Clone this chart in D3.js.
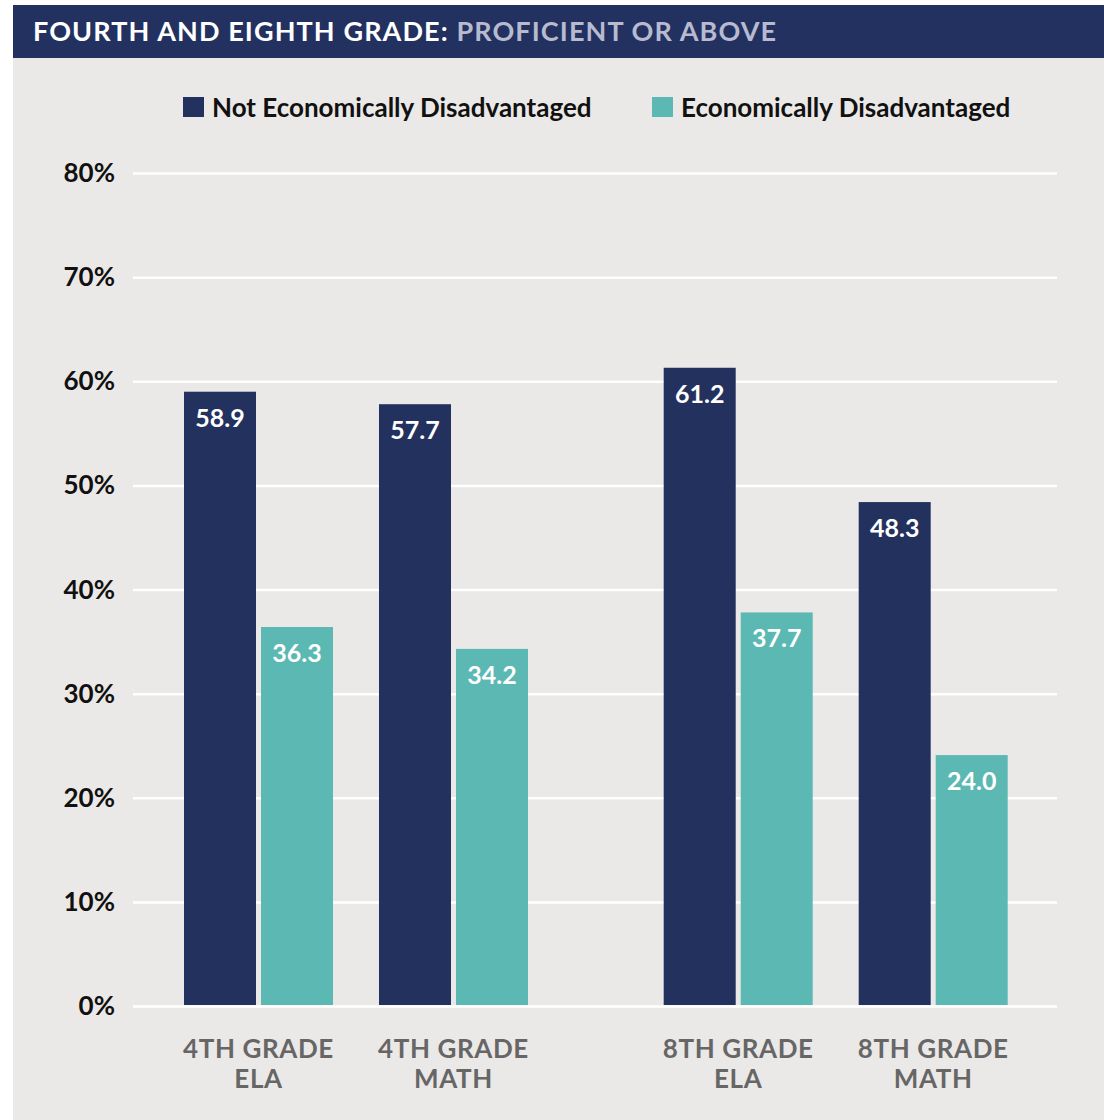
<!DOCTYPE html>
<html><head><meta charset="utf-8">
<script src="https://cdn.jsdelivr.net/npm/d3@7"></script>
<style>
html,body{margin:0;padding:0;background:#fff;}
svg{display:block;font-family:Lato, "Open Sans", sans-serif;}
</style></head>
<body>
<svg id="chart" width="1104" height="1120"></svg>
<script>
const categories = [["4TH GRADE","ELA"],["4TH GRADE","MATH"],["8TH GRADE","ELA"],["8TH GRADE","MATH"]];
const slots = [0, 1, 2.46, 3.46];
const seriesNames = ["Not Economically Disadvantaged","Economically Disadvantaged"];
const notDisadv = [58.9, 57.7, 61.2, 48.3];
const disadv = [36.3, 34.2, 37.7, 24.0];
const yTicks = [0,10,20,30,40,50,60,70,80];
const titleMain = "FOURTH AND EIGHTH GRADE: ";
const titleSub = "PROFICIENT OR ABOVE";

const NAVY = "#22315e", TEAL = "#5bb8b3", BG = "#ebe9e7";
const svg = d3.select("#chart");

svg.append("rect").attr("x",13).attr("y",5).attr("width",1091).attr("height",1115).attr("fill",BG);
svg.append("rect").attr("x",13).attr("y",5).attr("width",1091).attr("height",53).attr("fill","#223160");
const t = svg.append("text").attr("x",33).attr("y",40.5).attr("font-size",27).attr("font-weight",700).attr("letter-spacing",1.1);
t.append("tspan").attr("fill","#fff").text(titleMain);
t.append("tspan").attr("fill","#b8bbd0").text(titleSub);

// legend
const legX = [183, 652];
seriesNames.forEach((n,i)=>{
  svg.append("rect").attr("x",legX[i]).attr("y",97).attr("width",21).attr("height",20).attr("fill",i?TEAL:NAVY);
  svg.append("text").attr("x",legX[i]+29).attr("y",117).attr("font-size",26).attr("font-weight",700).attr("fill","#111").text(n);
});

const y = d3.scaleLinear().domain([0,80]).range([1005,172]);
const x = d3.scaleLinear().domain([0,1]).range([258.5,453.5]);
const barW = 72, gap = 5;

// gridlines
const yAxis = d3.axisLeft(y).tickValues(yTicks).tickFormat(d=>d+"%").tickSize(-924);
const ga = svg.append("g").attr("transform","translate(133,0)").call(yAxis);
ga.select(".domain").remove();
ga.selectAll(".tick line").attr("stroke","#fff").attr("stroke-width",2.5).attr("transform","translate(0,1)");
ga.selectAll(".tick text").remove();
const gl = svg.append("g");
yTicks.forEach(v=>{
  gl.append("text").attr("x",115).attr("y",y(v)+10).attr("text-anchor","end").attr("font-size",26).attr("font-weight",700).attr("fill","#111").text(v+"%");
});

const data = categories.map((c,i)=>({c, s:slots[i], a:notDisadv[i], b:disadv[i]}));
const g = svg.append("g");
data.forEach(d=>{
  const cx = x(d.s);
  [[d.a,NAVY,cx-gap/2-barW],[d.b,TEAL,cx+gap/2]].forEach(([v,col,bx])=>{
    g.append("rect").attr("x",bx).attr("y",y(v)).attr("width",barW).attr("height",y(0)-y(v)).attr("fill",col);
    g.append("text").attr("x",bx+barW/2).attr("y",y(v)+35).attr("text-anchor","middle").attr("font-size",25).attr("font-weight",700).attr("fill","#fff").text(v.toFixed(1));
  });
  d.c.forEach((line,k)=>{
    g.append("text").attr("x",cx).attr("y",1058+k*30).attr("text-anchor","middle").attr("font-size",26).attr("font-weight",700).attr("letter-spacing",0.6).attr("fill","#666").text(line);
  });
});
</script>
</body></html>
